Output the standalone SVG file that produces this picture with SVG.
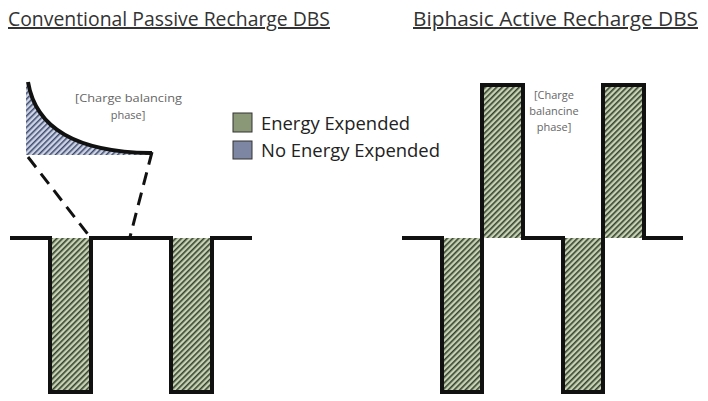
<svg xmlns="http://www.w3.org/2000/svg" width="708" height="401" viewBox="0 0 708 401">
<style>
.title{font-family:"Open Sans","Liberation Sans",sans-serif;font-size:20px;fill:#333;text-decoration:underline}
.note{font-family:"Open Sans","Liberation Sans",sans-serif;font-size:11px;fill:#666}
.leg{font-family:"Open Sans","Liberation Sans",sans-serif;font-size:18px;fill:#222}
.wave{fill:none;stroke:#111;stroke-width:4;stroke-linejoin:miter}
.dash{fill:none;stroke:#111;stroke-width:3;stroke-dasharray:13 8}
.gfill{fill:url(#hg);stroke:none}
</style>
<defs>
<pattern id="hg" width="4" height="4" patternUnits="userSpaceOnUse" patternTransform="rotate(45)">
<rect width="4" height="4" fill="#c6d2b2"/>
<rect width="1.6" height="4" fill="#36422f"/>
</pattern>
<pattern id="hb" width="4" height="4" patternUnits="userSpaceOnUse" patternTransform="rotate(45)">
<rect width="4" height="4" fill="#cdd4e6"/>
<rect width="1.5" height="4" fill="#3d4a6c"/>
</pattern>
</defs>
<text class="title" x="8" y="26" textLength="322" lengthAdjust="spacingAndGlyphs">Conventional Passive Recharge DBS</text>
<text class="title" x="413" y="26" textLength="285" lengthAdjust="spacingAndGlyphs">Biphasic Active Recharge DBS</text>
<g id="legend">
<rect x="233" y="113" width="19" height="19" fill="#8b9878" stroke="#333" stroke-width="1"/>
<rect x="233" y="141" width="19" height="18" fill="#7d87a4" stroke="#333" stroke-width="1"/>
<text class="leg" x="261" y="130" textLength="149" lengthAdjust="spacingAndGlyphs">Energy Expended</text>
<text class="leg" x="261" y="157" textLength="179" lengthAdjust="spacingAndGlyphs">No Energy Expended</text>
</g>
<g id="passive">
<rect class="gfill" x="51" y="238" width="39" height="154"/>
<rect class="gfill" x="172" y="238" width="39" height="154"/>
<path class="wave" d="M10,238 H50 V392 H91 V238 H171 V392 H212 V238 H252"/>
</g>
<g id="inset">
<path d="M26,84 C36,130 80,152 150,153 V155 H26 Z" fill="url(#hb)"/>
<path class="wave" d="M28,82 C36,130 80,152 150,153 H152"/>
<text class="note" x="75" y="102" textLength="107" lengthAdjust="spacingAndGlyphs">[Charge balancing</text>
<text class="note" x="128" y="119" text-anchor="middle">phase]</text>
</g>
<g id="connectors">
<line class="dash" x1="28" y1="157" x2="90" y2="237"/>
<line class="dash" x1="152" y1="152" x2="130" y2="237"/>
</g>
<g id="active">
<rect class="gfill" x="443" y="238" width="39" height="154"/>
<rect class="gfill" x="483" y="86" width="39" height="152"/>
<rect class="gfill" x="564" y="238" width="39" height="154"/>
<rect class="gfill" x="604" y="86" width="40" height="152"/>
<path class="wave" d="M402,238 H442 V392 H482 V85 H523 V238 H563 V392 H603 V85 H644 V238 H683"/>
<text class="note" x="554" y="99" text-anchor="middle">[Charge</text>
<text class="note" x="554" y="115" text-anchor="middle">balancine</text>
<text class="note" x="554" y="131" text-anchor="middle">phase]</text>
</g>
</svg>
